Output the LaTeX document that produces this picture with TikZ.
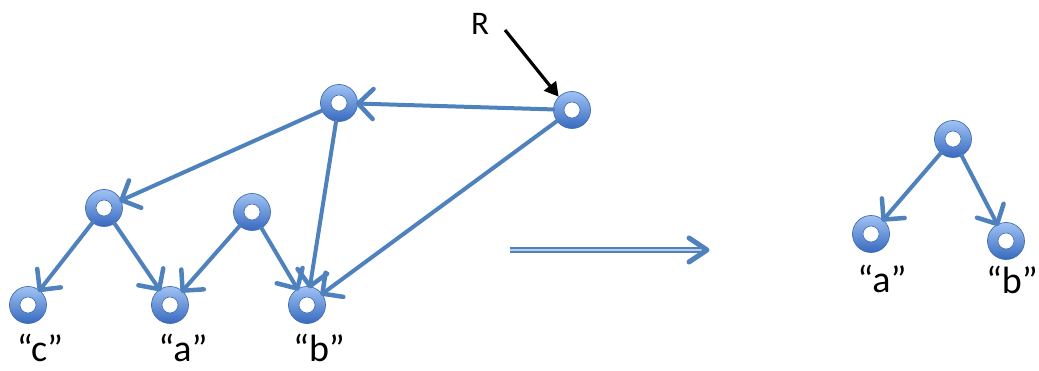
\documentclass[tikz,border=0pt]{standalone}
\usepackage{fontspec}
\setmainfont{Carlito}
\usetikzlibrary{arrows.meta}
\definecolor{edgeblue}{RGB}{79,129,189}
\definecolor{ringtop}{RGB}{160,195,245}
\definecolor{ringbot}{RGB}{55,105,190}
\definecolor{ringline}{RGB}{65,110,175}
\tikzset{
  ring/.style={circle, minimum size=37pt, inner sep=0pt, draw=ringline, line width=0.7pt,
    top color=ringtop, bottom color=ringbot,
    path picture={\fill[white,draw=ringline,line width=0.6pt] (path picture bounding box.center) circle (8pt);}},
  link/.style={draw=edgeblue, line width=4pt, line cap=round,
    -{Straight Barb[length=15pt,width=30pt,line width=4.5pt,round]}, shorten >=-2pt},
  lab/.style={font=\fontsize{38}{40}\selectfont, inner sep=0pt, anchor=base},
}
\begin{document}
\begin{tikzpicture}[x=1pt,y=-1pt]
\useasboundingbox (0,0) rectangle (1039,371);
% left graph nodes
\node[ring] (r) at (572,110) {};
\node[ring] (t) at (339,103) {};
\node[ring] (l) at (104,208) {};
\node[ring] (m) at (252,212) {};
\node[ring] (c) at (28,305) {};
\node[ring] (a) at (170,305) {};
\node[ring] (b) at (307,305) {};
% right tree nodes
\node[ring] (rt) at (953,139) {};
\node[ring] (ra) at (871,234) {};
\node[ring] (rb) at (1006,241) {};
% edges
\draw[link] (r) -- (t);
\draw[link] (t) -- (l);
\draw[link] (t) -- (b);
\draw[link] (r) -- (b);
\draw[link] (l) -- (c);
\draw[link] (l) -- (a);
\draw[link] (m) -- (a);
\draw[link] (m) -- (b);
\draw[link] (rt) -- (ra);
\draw[link] (rt) -- (rb);
% labels
\node[lab] (lc) at (40,362) {“c”};
\node[lab] (la) at (183,362) {“a”};
\node[lab] (lb) at (319,362) {“b”};
\node[lab] (lra) at (882,293) {“a”};
\node[lab, anchor=base east] (lrb) at (1038,294) {“b”};
% R pointer
\node[font=\fontsize{33}{35}\selectfont, inner sep=0pt, anchor=base] (rl) at (480,35) {R};
\coordinate (rs) at (505,30);
\draw[line width=3.2pt, -{Triangle[length=14pt,width=15pt]}] (rs) -- (r.north west);
% double arrow
\coordinate (ds) at (510,250);
\coordinate (de) at (707,250);
\draw[draw=edgeblue, line width=1.8pt, double=edgeblue!40, double distance=2.2pt] (ds) -- ([xshift=-4pt]de);
\draw[draw=edgeblue, line width=5pt, line cap=round, line join=round] ([xshift=-18pt,yshift=-12pt]de) -- (de) -- ([xshift=-18pt,yshift=12pt]de);
\end{tikzpicture}
\end{document}
